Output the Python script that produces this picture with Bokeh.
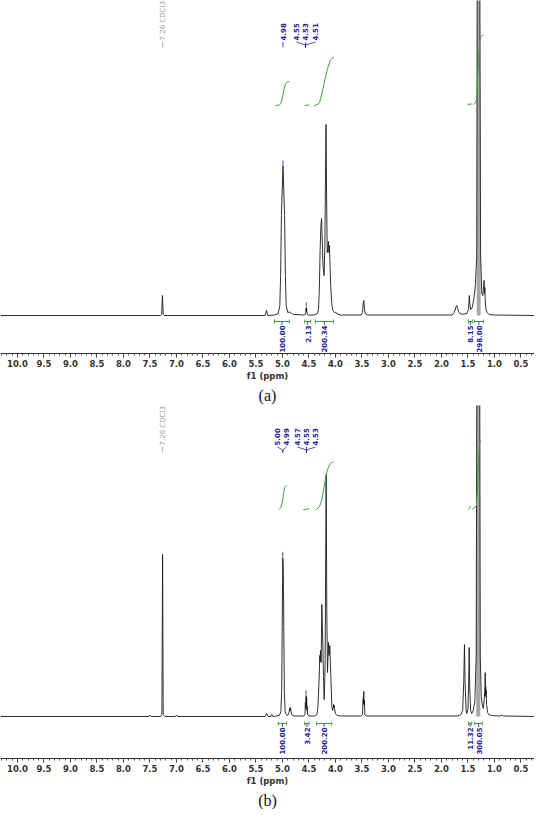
import numpy as np
from bokeh.plotting import figure
from bokeh.layouts import column
from bokeh.models import Range1d, FixedTicker, Title
from bokeh.core.properties import value
from bokeh.embed import file_html
from bokeh.resources import INLINE

# ---------------- data: panel (a) spectrum (ppm, intensity) ----------------
a_ppm = [10.32, 7.30, 7.28, 7.265, 7.25, 7.23, 5.33, 5.30, 5.28,
         5.15, 5.08, 5.05, 5.035, 5.02, 4.99, 4.96, 4.945, 4.93, 4.90, 4.86, 4.83, 4.78,
         4.58, 4.56, 4.555, 4.55, 4.545, 4.54, 4.53, 4.50,
         4.40, 4.34, 4.32, 4.305, 4.29, 4.275, 4.262, 4.25, 4.235, 4.215, 4.20, 4.19, 4.178,
         4.168, 4.155, 4.14, 4.132, 4.124, 4.115, 4.105, 4.09, 4.07, 4.05, 4.02, 4.00, 3.97, 3.90,
         3.52, 3.49, 3.475, 3.465, 3.455, 3.44, 3.40,
         1.80, 1.76, 1.73, 1.715, 1.70, 1.67, 1.63, 1.60, 1.52, 1.49, 1.475, 1.465, 1.45,
         1.42, 1.39, 1.36, 1.335, 1.318, 1.29, 1.262, 1.24, 1.22, 1.205, 1.195, 1.188, 1.182,
         1.175, 1.16, 1.14, 1.10, 1.00, 0.245]
a_int = [0, 0, 1, 20, 1, 0, 0, 5, 0,
         0.5, 2, 10, 40, 100, 150, 100, 40, 10, 3, 3.5, 2, 1,
         0.5, 3, 7, 4, 8, 4, 1, 0.3,
         0.5, 2, 6, 25, 65, 90, 97, 75, 50, 40, 70, 130, 191,
         120, 63, 70, 74, 63, 70, 55, 30, 12, 5, 3, 3.5, 1.5, 0.5,
         0.5, 3, 13, 15, 8, 2, 0.5,
         0.5, 3, 8, 10, 8, 3, 1.5, 1.2, 2, 6, 20, 12, 6,
         8, 16, 30, 60, 600, 600, 60, 22, 20, 30, 35, 22, 28,
         15, 6, 3, 1, 0.5, 0]

# ---------------- data: panel (b) spectrum ----------------
b_ppm = [10.32, 7.52, 7.50, 7.48, 7.30, 7.275, 7.262, 7.25, 7.22, 7.02, 7.00, 6.98,
         5.33, 5.30, 5.27, 5.22, 5.20, 5.18,
         5.06, 5.03, 5.015, 5.005, 4.995, 4.985, 4.975, 4.965, 4.95, 4.93,
         4.90, 4.875, 4.865, 4.86, 4.855, 4.85, 4.845, 4.835, 4.82, 4.78,
         4.60, 4.575, 4.568, 4.562, 4.556, 4.550, 4.544, 4.538, 4.532, 4.525, 4.50,
         4.40, 4.35, 4.33, 4.31, 4.296, 4.289, 4.283, 4.276, 4.27, 4.258, 4.245, 4.226, 4.214,
         4.20, 4.195, 4.176, 4.164, 4.151, 4.132, 4.12, 4.107, 4.088, 4.069, 4.055, 4.044,
         4.035, 4.03, 4.025, 4.015, 4.00, 3.97, 3.90,
         3.52, 3.49, 3.478, 3.472, 3.466, 3.46, 3.454, 3.445, 3.42,
         1.70, 1.64, 1.60, 1.58, 1.566, 1.555, 1.535, 1.52, 1.50, 1.487, 1.477, 1.467, 1.45,
         1.43, 1.40, 1.37, 1.345, 1.322, 1.288, 1.268, 1.25, 1.225, 1.21, 1.19, 1.18, 1.175,
         1.17, 1.165, 1.16, 1.155, 1.15, 1.13, 1.10, 1.00, 0.90, 0.86, 0.83, 0.245]
b_int = [0, 0, 1.5, 0, 0, 2, 162, 2, 0, 0, 1.5, 0,
         0, 3, 0, 0, 2, 0,
         1, 5, 25, 90, 159, 150, 90, 25, 5, 2,
         1, 4, 8, 6, 9, 7, 8, 4, 1.5, 0.5,
         0.5, 2, 14, 8, 21, 10, 19, 6, 10, 2, 0.5,
         0.5, 2, 10, 35, 61, 55, 66, 56, 54, 112, 87, 41, 17,
         40, 57, 242, 107, 44, 74, 61, 71, 41, 11, 6, 8,
         12, 9, 11, 7, 3, 1, 0.5,
         0.5, 2, 18, 12, 25, 12, 16, 2, 0.5,
         0.5, 1.5, 6, 35, 72, 35, 6, 3, 8, 35, 69, 30, 6,
         3, 6, 15, 60, 600, 600, 60, 20, 10, 8, 20, 30, 44,
         20, 30, 22, 26, 12, 4, 1.5, 0.8, 0.5, 1.5, 0.5, 0]

# ---------------- integral curves (ppm lists, height lists) ----------------
a_integ_x = [[5.13, 5.06, 5.03, 5.00, 4.97, 4.94, 4.91, 4.87],
             [4.58, 4.49],
             [4.40, 4.34, 4.30, 4.26, 4.22, 4.18, 4.15, 4.12, 4.09, 4.06, 4.03],
             [1.51, 1.48, 1.46, 1.43],
             [1.40, 1.36, 1.335, 1.32, 1.30, 1.28, 1.26, 1.24, 1.21]]
a_integ_y = [[210, 210.5, 212, 218, 226, 232, 233.5, 234],
             [210, 210.5],
             [210, 211, 213, 221, 231, 240, 247, 252, 256, 257.5, 258],
             [210, 212, 210.5, 212],
             [211, 212.5, 216, 235, 255, 274, 278.5, 279.5, 280.5]]
b_integ_x = [[5.06, 5.03, 5.00, 4.98, 4.96, 4.93],
             [4.61, 4.50],
             [4.36, 4.30, 4.26, 4.22, 4.18, 4.15, 4.11, 4.07, 4.04],
             [1.49, 1.45],
             [1.42, 1.38, 1.34, 1.32, 1.30, 1.285, 1.27, 1.25]]
b_integ_y = [[207, 209, 215, 223, 229, 231],
             [206.5, 208],
             [207, 210, 216, 228, 240, 247, 252, 254, 254.5],
             [207, 210.5],
             [207, 208.5, 211, 230, 256, 272, 275.5, 276.5]]

# ---------------- integration brackets ----------------
a_br_from = [5.15, 4.58, 4.38, 1.49, 1.38]
a_br_to = [4.87, 4.47, 4.04, 1.42, 1.21]
a_br_text = ["100.00", "2.13", "200.34", "8.15", "298.00"]
b_br_from = [5.08, 4.58, 4.36, 1.49, 1.37]
b_br_to = [4.92, 4.50, 4.07, 1.43, 1.23]
b_br_text = ["100.00", "3.42", "200.20", "11.32", "300.05"]

# ---------------- peak labels ----------------
solvent_text = "7.26 CDCl3"
solvent_x = 7.26
a_pk_text = ["4.98", "4.55", "4.53", "4.51"]
a_pk_x = [4.99, 4.736, 4.566, 4.377]
a_pk_join = [4.99, 4.566, 4.566, 4.566]
b_pk_text = ["5.00", "4.99", "4.57", "4.55", "4.53"]
b_pk_x = [5.094, 4.925, 4.717, 4.547, 4.377]
b_pk_join = [4.995, 4.995, 4.547, 4.547, 4.547]

# peak-pick markers (ppm, height)
a_mark_x = [4.99, 4.55]
a_mark_y = [150, 8]
b_mark_x = [4.995, 4.556]
b_mark_y = [159, 21]

tick_vals = [10.0, 9.5, 9.0, 8.5, 8.0, 7.5, 7.0, 6.5, 6.0, 5.5, 5.0, 4.5, 4.0, 3.5,
             3.0, 2.5, 2.0, 1.5, 1.0, 0.5]
tick_labels = ["10.0", "9.5", "9.0", "8.5", "8.0", "7.5", "7.0", "6.5", "6.0", "5.5",
               "5.0", "4.5", "4.0", "3.5", "3.0", "2.5", "2.0", "1.5", "1.0", "0.5"]

BLUE = "#1f1f9e"
GREEN = "#3fa03f"
GRAY = "#9a9a9a"
FONT = "DejaVu Sans"


def make_panel(ppm, inten, ix, iy, bfrom, bto, btext, ptext, px, pjoin, mx, my,
               yr, lab_bottom, br_y, caption, bottom):
    p = figure(frame_width=534, frame_height=353, output_backend="svg",
               toolbar_location=None, x_range=Range1d(10.32, 0.245),
               y_range=Range1d(*yr), y_axis_location=None,
               min_border_left=0, min_border_right=0, min_border_top=0,
               min_border_bottom=bottom)
    p.outline_line_color = None
    p.grid.visible = False
    p.background_fill_color = "white"

    ppm_a = np.array(ppm)
    int_a = np.array(inten)
    m = (ppm_a <= 1.345) & (ppm_a >= 1.262)
    p.varea(x=ppm_a[m], y1=0, y2=int_a[m], fill_color="#a6a6a6")
    p.line(ppm, inten, line_color="#1a1a1a", line_width=0.9)

    # integrals
    p.multi_line(ix, iy, line_color=GREEN, line_width=1)

    # brackets
    cx = [(a + b) / 2 for a, b in zip(bfrom, bto)]
    p.segment(x0=bfrom, y0=[br_y] * len(bfrom), x1=bto, y1=[br_y] * len(bfrom),
              line_color=GREEN, line_width=1)
    p.segment(x0=bfrom + bto, y0=[br_y - 2] * (2 * len(bfrom)), x1=bfrom + bto,
              y1=[br_y + 2] * (2 * len(bfrom)), line_color=GREEN, line_width=1)
    p.segment(x0=cx, y0=[br_y] * len(cx), x1=cx, y1=[br_y - 3.5] * len(cx),
              line_color=BLUE, line_width=0.8)
    p.text(x=cx, y=[br_y - 4] * len(cx), text=btext, angle=np.pi / 2,
           text_align="right", text_baseline="middle", text_color=BLUE,
           text_font=value(FONT), text_font_size="7px", text_font_style="bold")

    # solvent label (gray)
    p.text(x=[solvent_x], y=[lab_bottom], text=[solvent_text], angle=np.pi / 2,
           text_align="left", text_baseline="middle", text_color=GRAY,
           text_font=value(FONT), text_font_size="7px")
    p.segment(x0=[solvent_x], y0=[lab_bottom - 1.5], x1=[solvent_x],
              y1=[lab_bottom - 7], line_color=GRAY, line_width=0.8)

    # peak labels (blue)
    p.text(x=px, y=[lab_bottom] * len(px), text=ptext, angle=np.pi / 2,
           text_align="left", text_baseline="middle", text_color=BLUE,
           text_font=value(FONT), text_font_size="7px", text_font_style="bold")
    p.segment(x0=px, y0=[lab_bottom - 1.5] * len(px), x1=pjoin,
              y1=[lab_bottom - 4.5] * len(px), line_color=BLUE, line_width=0.8)
    p.segment(x0=pjoin, y0=[lab_bottom - 4.5] * len(px), x1=pjoin,
              y1=[lab_bottom - 7] * len(px), line_color=BLUE, line_width=0.8)

    # peak markers
    p.segment(x0=mx, y0=[v + 1 for v in my], x1=mx, y1=[v + 5 for v in my],
              line_color="#3a3ad0", line_width=1)

    ax = p.xaxis[0]
    ax.ticker = FixedTicker(ticks=tick_vals,
                            minor_ticks=[round(10.3 - 0.1 * i, 1) for i in range(101)])
    ax.major_label_overrides = {v: s for v, s in zip(tick_vals, tick_labels)}
    ax.axis_label = "f1 (ppm)"
    ax.axis_label_text_font = FONT
    ax.axis_label_text_font_style = "bold"
    ax.axis_label_text_font_size = "8.5px"
    ax.axis_label_standoff = 1
    ax.major_label_text_font = FONT
    ax.major_label_text_font_style = "bold"
    ax.major_label_text_font_size = "8.5px"
    ax.major_label_standoff = 2
    ax.major_tick_in = 0
    ax.major_tick_out = 4
    ax.minor_tick_in = 0
    ax.minor_tick_out = 2
    ax.axis_line_color = "#333333"
    ax.major_tick_line_color = "#333333"
    ax.minor_tick_line_color = "#555555"
    ax.major_label_text_color = "#333333"
    ax.axis_label_text_color = "#333333"

    t = Title(text=caption, align="center", text_font="Liberation Serif",
              text_font_size="16px", text_font_style="normal", text_color="#111111",
              standoff=2)
    p.add_layout(t, "below")
    return p


fa = make_panel(a_ppm, a_int, a_integ_x, a_integ_y, a_br_from, a_br_to, a_br_text,
                a_pk_text, a_pk_x, a_pk_join, a_mark_x, a_mark_y,
                (-38, 315), 275, -6, "(a)", 52)
fb = make_panel(b_ppm, b_int, b_integ_x, b_integ_y, b_br_from, b_br_to, b_br_text,
                b_pk_text, b_pk_x, b_pk_join, b_mark_x, b_mark_y,
                (-42, 311), 271, -7, "(b)", 46)

layout = column(fa, fb, spacing=0)
open("out.html", "w").write(file_html(layout, INLINE))
